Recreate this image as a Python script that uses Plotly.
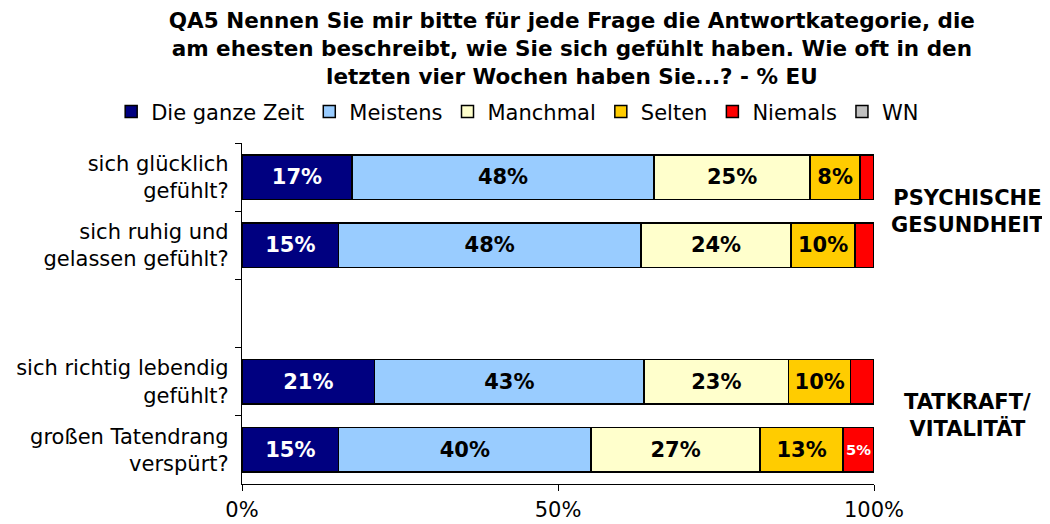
import plotly.graph_objects as go

categories = [
    "sich glücklich<br>gefühlt?",
    "sich ruhig und<br>gelassen gefühlt?",
    " ",
    "sich richtig lebendig<br>gefühlt?",
    "großen Tatendrang<br>verspürt?",
]

series_names = ["Die ganze Zeit", "Meistens", "Manchmal", "Selten", "Niemals", "WN"]
die_ganze_zeit = [17.4, 15.3, None, 21.0, 15.3]
meistens = [47.8, 47.8, None, 42.6, 39.9]
manchmal = [24.7, 23.8, None, 22.9, 26.8]
selten = [7.9, 10.1, None, 9.8, 13.1]
niemals = [2.2, 3.0, None, 3.7, 4.9]
wn = [0, 0, None, 0, 0]

colors = ["#000080", "#99CCFF", "#FFFFCC", "#FFCC00", "#FF0000", "#C0C0C0"]
text_colors = ["white", "black", "black", "black", "white", "black"]
text_sizes = [21, 21, 21, 21, 15, 21]

x_tick_vals = [0, 50, 100]
x_tick_text = ["0%", "50%", "100%"]

group_labels = ["PSYCHISCHE<br>GESUNDHEIT", "TATKRAFT/<br>VITALITÄT"]
group_positions = [0.5, 3.5]

title_text = ("QA5 Nennen Sie mir bitte für jede Frage die Antwortkategorie, die<br>"
              "am ehesten beschreibt, wie Sie sich gefühlt haben. Wie oft in den<br>"
              "letzten vier Wochen haben Sie...? - % EU")

FONT = "DejaVu Sans"

def labels(vals):
    out = []
    for v in vals:
        if v is None or round(v) < 5:
            out.append("")
        else:
            out.append(f"{round(v)}%")
    return out

fig = go.Figure()
all_series = [die_ganze_zeit, meistens, manchmal, selten, niemals, wn]
for name, vals, col, tc, ts in zip(series_names, all_series, colors, text_colors, text_sizes):
    fig.add_trace(go.Bar(
        name=name,
        y=categories,
        x=vals,
        orientation="h",
        marker=dict(color=col, line=dict(color="black", width=1.5)),
        text=labels(vals),
        textposition="inside",
        insidetextanchor="middle",
        textangle=0,
        textfont=dict(family=FONT, size=ts, color=tc, weight="bold"),
        width=0.65,
        hoverinfo="skip",
    ))

for lab, pos in zip(group_labels, group_positions):
    fig.add_annotation(
        text=lab, x=1.148, xref="paper", y=pos, yref="y",
        showarrow=False, xanchor="center", yanchor="middle",
        font=dict(family=FONT, size=21, color="black", weight="bold"),
    )

fig.update_layout(
    barmode="stack",
    width=1050, height=524,
    margin=dict(l=234, r=184, t=135, b=48, autoexpand=False),
    paper_bgcolor="white", plot_bgcolor="white",
    font=dict(family=FONT, color="black"),
    title=dict(
        text=title_text, x=0.537, xanchor="center", xref="container",
        y=0.962, yanchor="middle", yref="container",
        font=dict(family=FONT, size=21.5, color="black", weight="bold"),
    ),
    legend=dict(
        orientation="h", x=-0.207, xref="paper", xanchor="left",
        y=1.091, yanchor="middle", yref="paper", traceorder="normal",
        font=dict(family=FONT, size=21, color="black"),
    ),
    showlegend=True,
)

fig.update_xaxes(
    range=[0, 100], tickvals=x_tick_vals, ticktext=x_tick_text,
    showgrid=False, zeroline=False,
    showline=True, linecolor="black", linewidth=1.2,
    ticks="outside", ticklen=6, tickcolor="black",
    tickfont=dict(family=FONT, size=21, color="black"),
    ticklabelstandoff=1,
)
fig.update_yaxes(
    categoryorder="array", categoryarray=categories,
    autorange="reversed", type="category",
    showgrid=False, zeroline=False,
    showline=True, linecolor="black", linewidth=1.2,
    ticks="outside", tickson="boundaries", ticklen=6, tickcolor="black",
    tickfont=dict(family=FONT, size=21, color="black"),
    ticklabelstandoff=8,
)

fig.write_html("out.html")
